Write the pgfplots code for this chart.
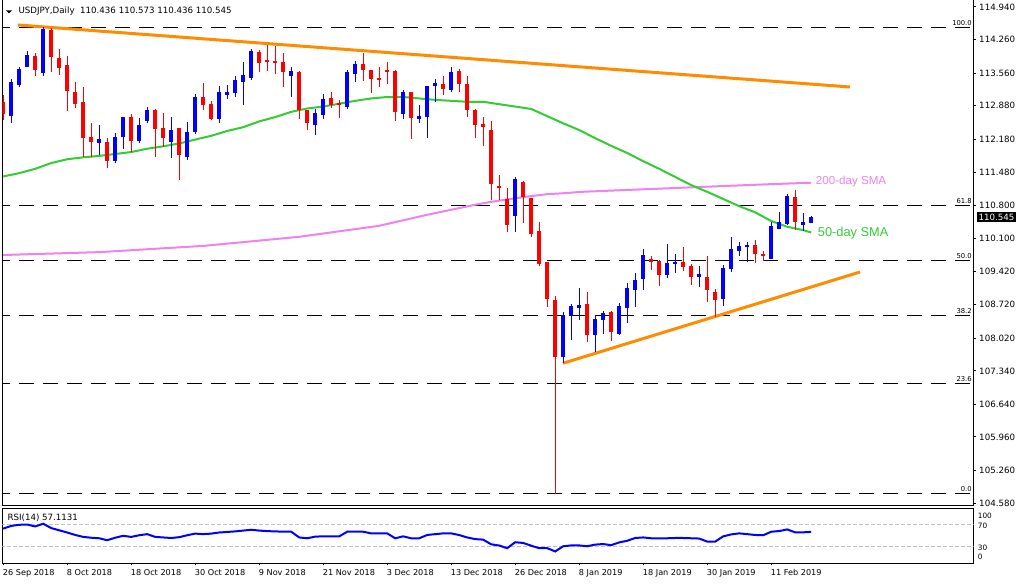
\documentclass[border=0pt]{standalone}
\usepackage{fontspec}
\setmainfont{DejaVu Sans}
\newfontfamily\arialfont{Liberation Sans}
\usepackage{pgfplots}
\usepackage{pgfplotstable}
\pgfplotsset{compat=1.18}
\definecolor{upc}{RGB}{0,0,255}
\definecolor{dnc}{RGB}{255,0,0}
\definecolor{mafast}{RGB}{50,205,50}
\definecolor{maslow}{RGB}{238,130,238}
\definecolor{trendc}{RGB}{255,140,0}
\definecolor{lvlc}{RGB}{192,192,192}

% daily candles, x = bar number (0 = 26 Sep 2018)
\pgfplotstableread{
i o h l c
0 112.96 113.10 112.59 112.71
1 112.67 113.44 112.52 113.37
2 113.31 113.69 113.28 113.65
3 113.69 114.03 113.69 113.94
4 113.92 113.98 113.49 113.63
5 113.57 114.53 113.49 114.48
6 114.46 114.50 113.59 113.90
7 113.88 114.06 113.51 113.66
8 113.73 113.92 112.77 113.19
9 113.17 113.37 112.83 112.92
10 112.96 113.27 111.81 112.21
11 112.23 112.52 111.81 112.13
12 112.09 112.48 111.85 112.18
13 112.12 112.20 111.58 111.73
14 111.73 112.31 111.69 112.23
15 112.23 112.65 111.97 112.64
16 112.64 112.71 111.92 112.15
17 112.15 112.62 112.11 112.48
18 112.55 112.85 112.52 112.79
19 112.79 112.80 111.81 112.40
20 112.41 112.73 112.02 112.21
21 112.13 112.64 111.79 112.37
22 112.41 112.42 111.33 111.84
23 111.81 112.54 111.74 112.33
24 112.32 113.12 112.28 113.06
25 113.06 113.36 112.78 112.89
26 112.91 112.98 112.57 112.61
27 112.60 113.29 112.52 113.17
28 113.11 113.31 113.02 113.17
29 113.15 113.49 113.07 113.42
30 113.38 113.79 112.89 113.52
31 113.46 114.06 113.42 114.02
32 114.00 114.04 113.59 113.76
33 113.83 114.15 113.61 113.79
34 113.81 114.13 113.55 113.76
35 113.79 113.98 113.26 113.59
36 113.51 113.69 113.07 113.60
37 113.58 113.60 112.60 112.79
38 112.79 112.79 112.38 112.52
39 112.48 112.82 112.27 112.73
40 112.68 113.12 112.60 113.02
41 113.04 113.17 112.83 112.89
42 112.94 113.00 112.62 112.91
43 112.85 113.62 112.82 113.58
44 113.53 113.81 113.38 113.75
45 113.75 113.98 113.39 113.63
46 113.62 113.62 113.15 113.44
47 113.46 113.69 113.28 113.42
48 113.62 113.79 113.34 113.59
49 113.60 113.62 112.55 112.75
50 112.71 113.21 112.60 113.17
51 113.17 113.17 112.19 112.63
52 112.61 112.89 112.52 112.66
53 112.65 113.29 112.21 113.29
54 113.28 113.44 112.96 113.35
55 113.33 113.50 113.11 113.23
56 113.21 113.69 113.17 113.58
57 113.60 113.65 113.17 113.33
58 113.33 113.50 112.65 112.79
59 112.79 112.82 112.21 112.48
60 112.50 112.64 112.04 112.44
61 112.37 112.57 110.91 111.25
62 111.20 111.43 110.91 111.17
63 110.94 111.17 110.25 110.39
64 110.58 111.38 110.25 111.35
65 111.29 111.31 110.42 110.98
66 110.95 110.96 110.13 110.21
67 110.26 110.45 109.54 109.58
68 109.61 109.62 108.68 108.85
69 108.82 108.90 104.77 107.62
70 107.64 108.57 107.51 108.50
71 108.49 108.73 107.99 108.70
72 108.66 109.07 108.40 108.72
73 108.74 108.99 107.94 108.09
74 108.08 108.51 107.74 108.42
75 108.40 108.59 108.12 108.54
76 108.58 108.59 107.97 108.15
77 108.12 108.75 108.10 108.70
78 108.66 109.18 108.35 109.07
79 109.02 109.39 108.67 109.24
80 109.25 109.89 109.03 109.76
81 109.68 109.74 109.45 109.62
82 109.64 109.65 109.12 109.35
83 109.35 109.99 109.29 109.59
84 109.57 109.78 109.38 109.61
85 109.61 109.93 109.43 109.52
86 109.53 109.57 109.13 109.31
87 109.31 109.53 109.10 109.36
88 109.30 109.73 108.78 109.02
89 108.99 109.06 108.47 108.83
90 108.85 109.55 108.70 109.50
91 109.47 110.14 109.41 109.89
92 109.85 110.04 109.75 109.95
93 109.93 110.03 109.62 109.97
94 109.97 110.07 109.59 109.79
95 109.78 109.85 109.63 109.73
96 109.68 110.44 109.68 110.37
97 110.31 110.65 110.31 110.46
98 110.41 111.03 110.39 110.99
99 110.98 111.12 110.28 110.44
100 110.39 110.63 110.27 110.44
101 110.436 110.573 110.436 110.545
}\ohlc

% 50-day SMA
\pgfplotstableread{
i v
0 111.40
2 111.47
4 111.56
6 111.68
8 111.76
10 111.80
12 111.83
14 111.87
16 111.91
18 111.98
20 112.03
22 112.09
24 112.17
26 112.25
28 112.35
30 112.43
32 112.55
34 112.64
36 112.75
38 112.82
40 112.86
42 112.92
44 112.98
46 113.03
48 113.06
50 113.06
52 113.03
54 113.00
56 112.98
58 112.96
60 112.96
62 112.91
64 112.86
66 112.81
68 112.66
70 112.51
72 112.37
74 112.20
76 112.04
78 111.89
80 111.72
82 111.56
84 111.39
86 111.22
88 111.08
90 110.93
92 110.78
94 110.65
96 110.47
98 110.35
100 110.28
101 110.23
}\smafast

% 200-day SMA
\pgfplotstableread{
i v
0 109.76
12 109.82
25 109.95
37 110.14
47 110.37
53 110.60
57 110.74
59 110.81
61 110.87
63 110.92
65.5 110.98
68 111.03
70 111.05
72.4 111.08
75.3 111.10
87 111.18
96 111.24
101 111.27
}\smaslow

% RSI(14)
\pgfplotstableread{
i v
0 63
1 68
2 70
3 70.5
4 67
5 72
6 64
7 60
8 56
9 51.5
10 48
11 46.5
12 45.5
13 42
14 46.5
15 50
16 48
17 51
18 53
19 48
20 47
21 46
22 47.5
23 51
24 54
25 53
26 54
27 56
28 57
29 58
30 59.5
31 61
32 59.5
33 58.5
34 58
35 57.5
36 57.5
37 47
38 45.5
39 48.5
40 49
41 49
42 49
43 57.4
44 57.4
45 57.4
46 54.4
47 54.4
48 54.4
49 45.5
50 49
51 45.5
52 45.5
53 51.5
54 53
55 54.4
56 54.4
57 51.4
58 47
59 44
60 43
61 34.5
62 32.3
63 27.5
64 38.3
65 37
66 32
67 27.5
68 27.5
69 21.6
70 31
71 32.5
72 32.5
73 31
74 34
75 35
76 33
77 38
78 41
79 46
80 47
81 45.5
82 45.5
83 45.5
84 46
85 46
86 45.5
87 45
88 39.5
89 39.5
90 49
91 52.5
92 54.4
93 53
94 51.5
95 51
96 57.4
97 58.6
98 61.6
99 56.2
100 56.3
101 57.1
}\rsitab

\pgfplotsset{
  candle/.style 2 args={draw=none, mark=none, forget plot,
    error bars/.cd, y dir=both, y explicit, error mark=none,
    error bar style={draw=#1, line width=#2}},
}

\begin{document}
\begin{tikzpicture}[x=0.75pt,y=0.75pt]
\useasboundingbox (0,0) rectangle (1019,584);
\fill[white] (0,0) rectangle (1019,584);

\begin{axis}[
  at={(1.875pt,58.5pt)}, anchor=south west,
  scale only axis, width=728.25pt, height=380.25pt,
  xmin=-0.0875, xmax=121.29, ymin=104.518, ymax=115.107,
  axis line style={line width=0.75pt},
  xtick=\empty,
  ytick={104.58,105.26,105.96,106.64,107.34,108.02,108.72,109.42,110.10,110.80,111.48,112.18,112.88,113.56,114.26,114.94},
  yticklabels={104.580,105.260,105.960,106.640,107.340,108.020,108.720,109.420,110.100,110.800,111.480,112.180,112.880,113.560,114.260,114.940},
  ytick pos=right, yticklabel pos=right,
  tick align=outside, major tick length=1.5pt,
  tick style={black, line width=0.75pt},
  yticklabel style={anchor=west, inner sep=0pt, font=\fontsize{6.5}{7.8}\selectfont, xshift=2.6pt},
  extra y ticks={110.545}, extra y tick labels={110.545},
  extra y tick style={major tick length=0pt,
    yticklabel style={fill=black, text=white, inner xsep=1pt, inner ysep=1.3pt}},
]
% Fibonacci levels
\foreach \lv/\lb in {114.52/100.0, 110.796/61.8, 109.645/50.0, 108.495/38.2, 107.071/23.6, 104.77/0.0}{
  \edef\tmp{\noexpand\addplot[black, line width=0.75pt, dash pattern=on 11.25pt off 6.75pt, forget plot]
    coordinates {(-1,\lv) (122,\lv)};
    \noexpand\node[anchor=south east, inner sep=0pt, font=\noexpand\fontsize{5.1}{6}\noexpand\selectfont] at (121.1,\lv) [yshift=1.2pt] {\lb};}
  \tmp
}
% moving averages
\addplot[maslow, line width=1.5pt, mark=none] table[x=i, y=v] {\smaslow};
\addplot[mafast, line width=1.5pt, mark=none] table[x=i, y=v] {\smafast};
% trend lines
\addplot[trendc, line width=2.25pt, mark=none] coordinates {(1.85,114.564) (105.85,113.269)};
\addplot[trendc, line width=2.25pt, mark=none] coordinates {(69.97,107.499) (107.1,109.405)};
% wicks
\addplot[candle={upc}{0.75pt}] table[x=i,
  y expr={\thisrow{c}>=\thisrow{o} ? (\thisrow{h}+\thisrow{l})/2 : nan},
  y error expr={(\thisrow{h}-\thisrow{l})/2}] {\ohlc};
\addplot[candle={dnc}{0.75pt}] table[x=i,
  y expr={\thisrow{c}<\thisrow{o} ? (\thisrow{h}+\thisrow{l})/2 : nan},
  y error expr={(\thisrow{h}-\thisrow{l})/2}] {\ohlc};
% bodies
\addplot[candle={upc}{3.4pt}] table[x=i,
  y expr={\thisrow{c}>=\thisrow{o} ? (\thisrow{o}+\thisrow{c})/2 : nan},
  y error expr={max(abs(\thisrow{c}-\thisrow{o})/2,0.011)}] {\ohlc};
\addplot[candle={dnc}{3.4pt}] table[x=i,
  y expr={\thisrow{c}<\thisrow{o} ? (\thisrow{o}+\thisrow{c})/2 : nan},
  y error expr={max(abs(\thisrow{c}-\thisrow{o})/2,0.011)}] {\ohlc};
% series labels
\node[anchor=west, inner sep=0pt, text=maslow, font=\arialfont\fontsize{8.7}{10}\selectfont] at (101.56,111.29) {200-day SMA};
\node[anchor=west, inner sep=0pt, text=mafast, font=\arialfont\fontsize{9.6}{11}\selectfont] at (101.81,110.22) {50-day SMA};
\end{axis}

\begin{axis}[
  at={(1.875pt,15.525pt)}, anchor=south west,
  scale only axis, width=728.25pt, height=41.25pt,
  xmin=-0.0875, xmax=121.29, ymin=0, ymax=100,
  axis line style={line width=0.75pt},
  xtick={0,8,...,96},
  xticklabels={26 Sep 2018, 8 Oct 2018, 18 Oct 2018, 30 Oct 2018, 9 Nov 2018, 21 Nov 2018, 3 Dec 2018, 13 Dec 2018, 26 Dec 2018, 8 Jan 2019, 18 Jan 2019, 30 Jan 2019, 11 Feb 2019},
  xtick pos=bottom, xticklabel pos=bottom,
  ytick={12,28.4,68.4,86.5}, yticklabels={0,30,70,100},
  ytick pos=right, yticklabel pos=right,
  tick align=outside, major tick length=1.5pt,
  y tick style={draw=none},
  tick style={black, line width=0.75pt},
  xticklabel style={anchor=north west, inner sep=0pt, font=\fontsize{6.1}{7}\selectfont, yshift=-2.8pt, xshift=-0.4pt},
  yticklabel style={anchor=west, inner sep=0pt, font=\fontsize{5.5}{6}\selectfont, xshift=1.6pt},
]
\addplot[lvlc, line width=0.75pt, dash pattern=on 2.5pt off 2pt, forget plot] coordinates {(-1,70) (122,70)};
\addplot[lvlc, line width=0.75pt, dash pattern=on 2.5pt off 2pt, forget plot] coordinates {(-1,30) (122,30)};
\addplot[upc, line width=1.5pt, mark=none] table[x=i, y=v] {\rsitab};
\end{axis}

% header texts
\fill (6,573.5) -- (12,573.5) -- (9,570.5) -- cycle;
\node[anchor=west, inner sep=0pt, font=\fontsize{6.5}{7.8}\selectfont] at (18.3,573) {USDJPY,Daily\ \ 110.436 110.573 110.436 110.545};
\node[anchor=west, inner sep=0pt, font=\fontsize{6.5}{7.8}\selectfont] at (7.3,66.7) {RSI(14) 57.1131};
\end{tikzpicture}
\end{document}
